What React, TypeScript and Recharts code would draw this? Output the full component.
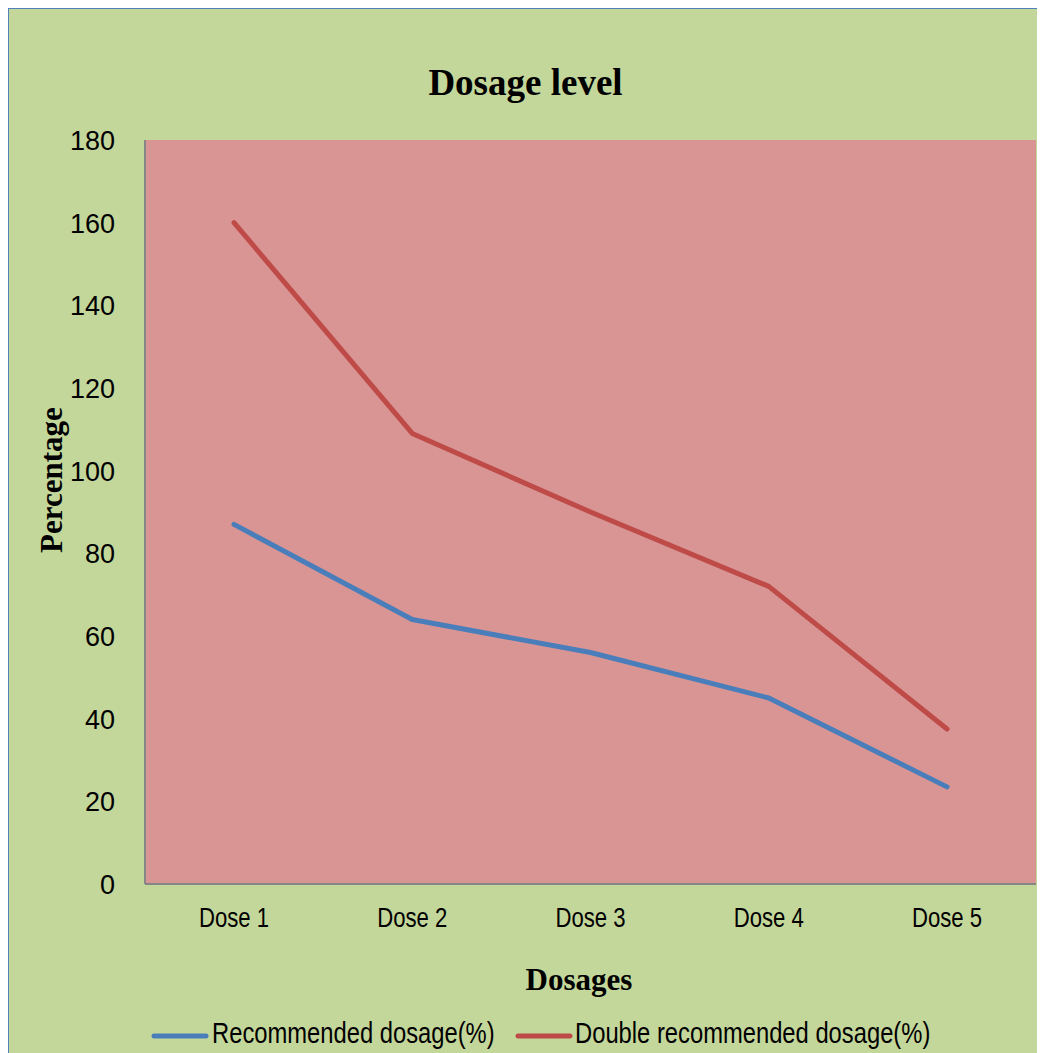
import React from 'react';
import { LineChart, Line, XAxis, YAxis, CartesianGrid } from 'recharts';

const doses = ['Dose 1', 'Dose 2', 'Dose 3', 'Dose 4', 'Dose 5'];
const recommended = [87, 64, 56, 45, 23.5];
const doubleRecommended = [160, 109, 90, 72, 37.5];
const yTicks = [0, 20, 40, 60, 80, 100, 120, 140, 160, 180];

const data = doses.map((dose, i) => ({
    dose,
    recommended: recommended[i],
    double: doubleRecommended[i],
}));

const W = 1036;
const H = 1044;
const sans = "'Liberation Sans', Arial, sans-serif";
const serif = "'Liberation Serif', 'Times New Roman', serif";
const SQUEEZE = 0.82; // Liberation Sans squeezed to look like Arial Narrow

// tick text, optionally squeezed sideways
const NarrowTick = ({ x, y, payload, textAnchor, baseDy, squeeze }: any) => (
    <text
        transform={`translate(${x},${y}) scale(${squeeze},1)`}
        textAnchor={textAnchor}
        dy={baseDy}
        fill="#000"
        fontFamily={sans}
        fontSize={27}
    >
        {payload.value}
    </text>
);

export default function App() {
    return (
        <div
            style={{
                position: 'relative',
                width: W,
                height: H,
                background: '#c4d79b',
                borderLeft: '1px solid #4f81bd',
                borderTop: '1px solid #4f81bd',
            }}
        >
            <LineChart
                width={W}
                height={H}
                data={data}
                margin={{ top: 131, right: 9, left: 0, bottom: 0 }}
            >
                <CartesianGrid fill="#d99594" horizontal={false} vertical={false} />
                <XAxis
                    dataKey="dose"
                    height={169}
                    padding={{ left: 89, right: 89 }}
                    axisLine={{ stroke: '#868686', strokeWidth: 2 }}
                    tickLine={false}
                    tickSize={0}
                    tickMargin={24}
                    tick={(props: any) => (
                        <NarrowTick {...props} textAnchor="middle" baseDy={19} squeeze={SQUEEZE} />
                    )}
                />
                <YAxis
                    width={136}
                    domain={[0, 180]}
                    ticks={yTicks}
                    axisLine={{ stroke: '#868686', strokeWidth: 2 }}
                    tickLine={false}
                    tickSize={0}
                    tickMargin={30}
                    tick={(props: any) => <NarrowTick {...props} textAnchor="end" baseDy={10} squeeze={1} />}
                />
                <Line
                    dataKey="recommended"
                    name="Recommended dosage(%)"
                    stroke="#4a7ebb"
                    strokeWidth={5}
                    strokeLinecap="round"
                    strokeLinejoin="round"
                    dot={false}
                    isAnimationActive={false}
                />
                <Line
                    dataKey="double"
                    name="Double recommended dosage(%)"
                    stroke="#be4b48"
                    strokeWidth={5}
                    strokeLinecap="round"
                    strokeLinejoin="round"
                    dot={false}
                    isAnimationActive={false}
                />
            </LineChart>
            <svg
                width={W}
                height={H}
                style={{ position: 'absolute', left: 0, top: 0, pointerEvents: 'none' }}
            >
                <text x={516.5} y={86} textAnchor="middle" fontFamily={serif} fontWeight="bold" fontSize={37}>
                    Dosage level
                </text>
                <text x={570} y={981} textAnchor="middle" fontFamily={serif} fontWeight="bold" fontSize={31}>
                    Dosages
                </text>
                <text
                    transform="translate(53, 471) rotate(-90)"
                    textAnchor="middle"
                    fontFamily={serif}
                    fontWeight="bold"
                    fontSize={31}
                >
                    Percentage
                </text>
                <line x1={145} x2={197} y1={1027} y2={1027} stroke="#4a7ebb" strokeWidth={5} strokeLinecap="round" />
                <text transform={`translate(203,1034) scale(${SQUEEZE},1)`} fontFamily={sans} fontSize={29}>
                    Recommended dosage(%)
                </text>
                <line x1={509} x2={561} y1={1027} y2={1027} stroke="#be4b48" strokeWidth={5} strokeLinecap="round" />
                <text transform={`translate(566,1034) scale(${SQUEEZE},1)`} fontFamily={sans} fontSize={29}>
                    Double recommended dosage(%)
                </text>
            </svg>
        </div>
    );
}
